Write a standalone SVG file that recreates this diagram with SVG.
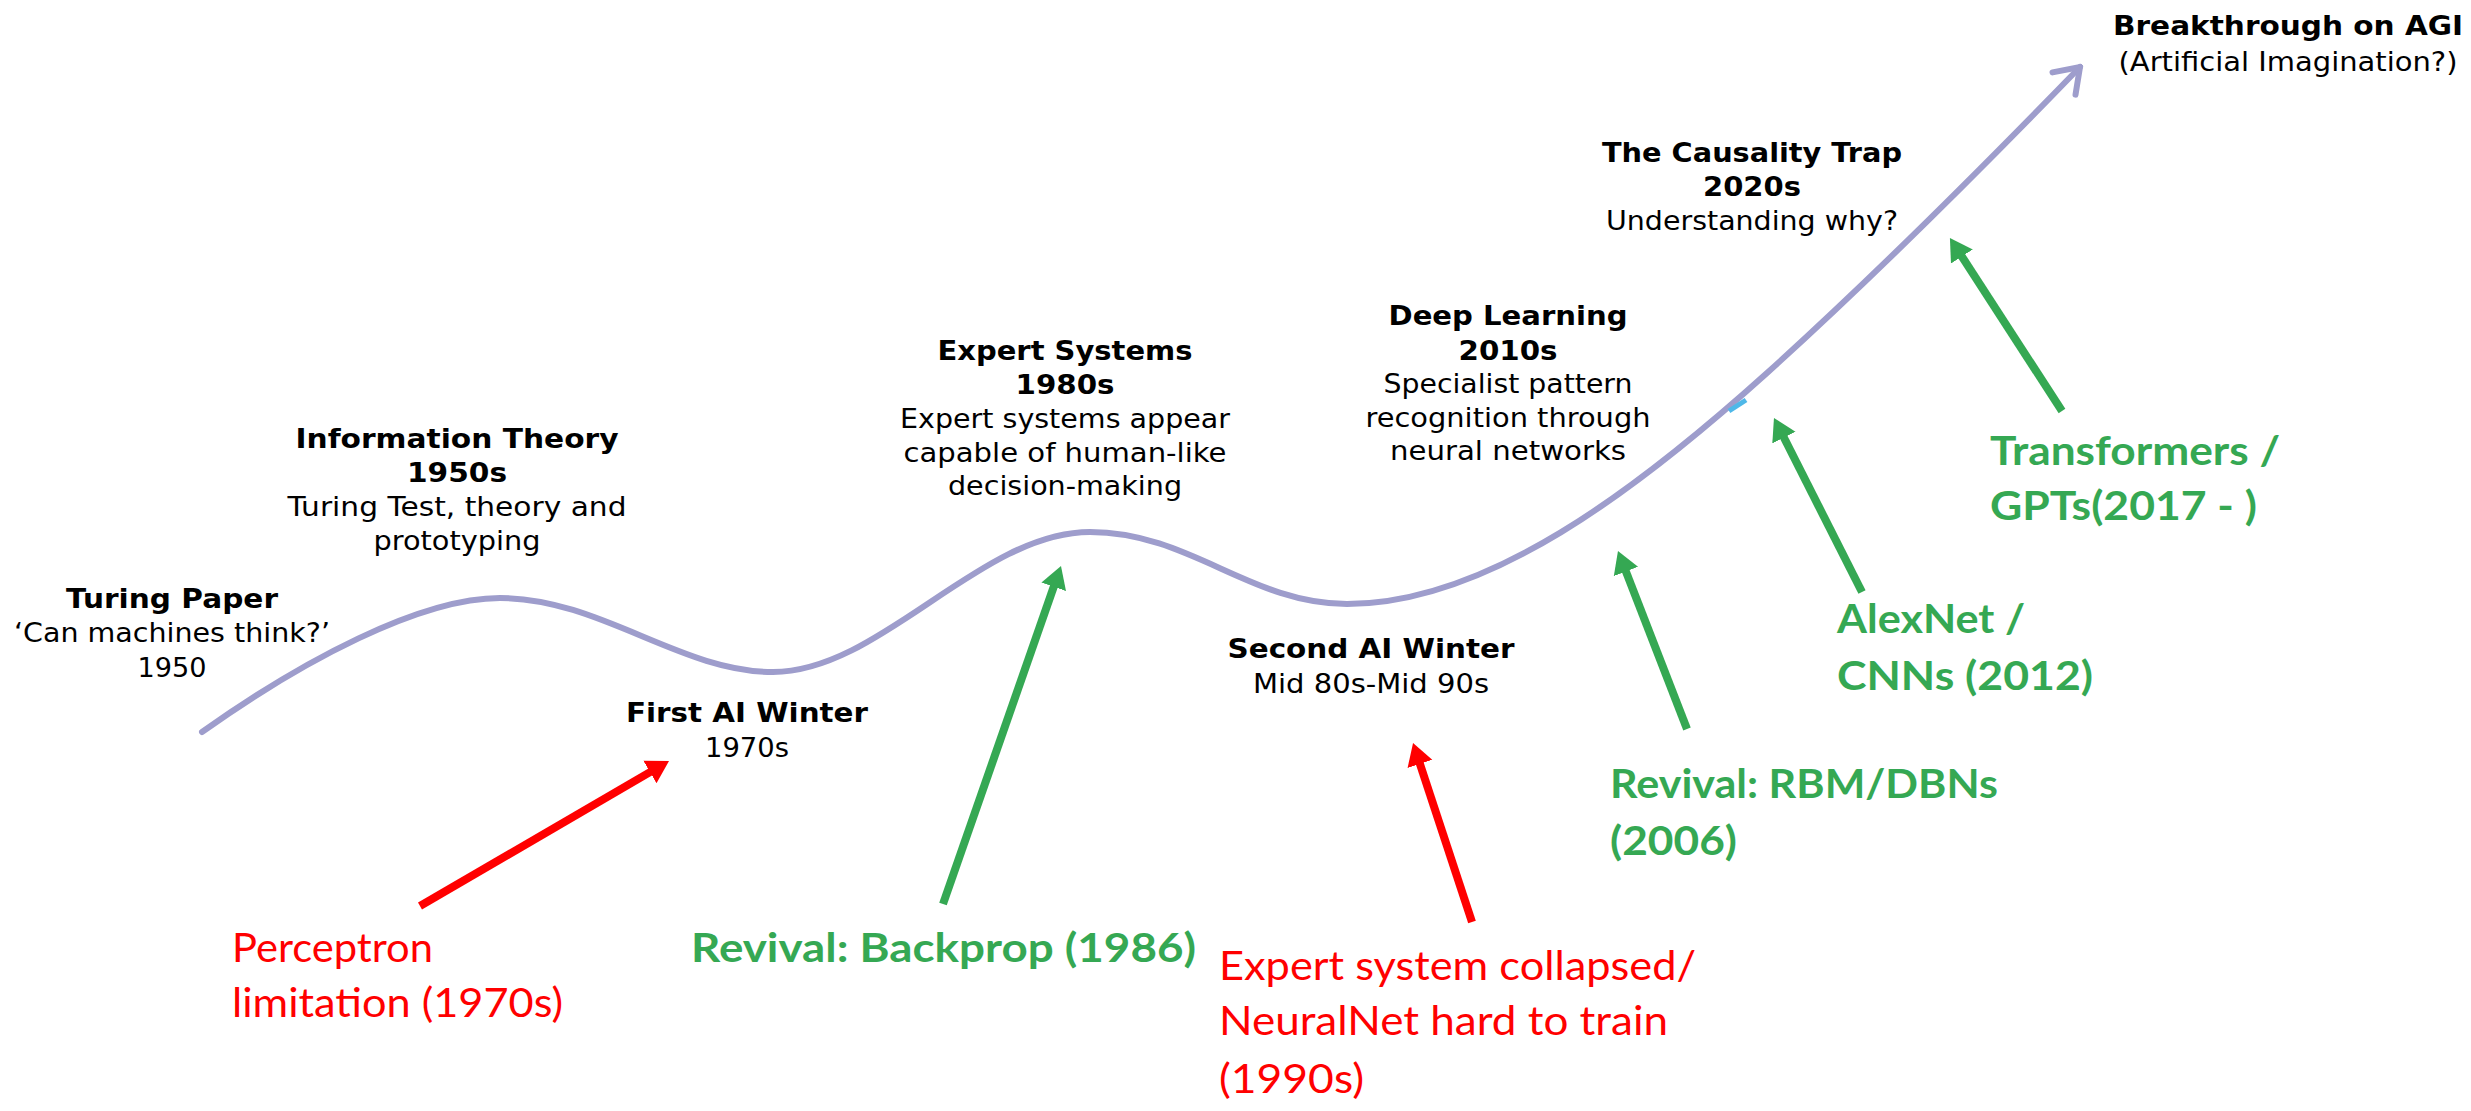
<svg xmlns="http://www.w3.org/2000/svg" width="2471" height="1111" viewBox="0 0 2471 1111">
  <style>
    text { font-family: "DejaVu Sans", Verdana, sans-serif; fill: #000; text-anchor: middle; }
    .title { font-size: 26px; font-weight: bold; }
    .body { font-size: 26px; }
    .lbl { font-family: Lato, "DejaVu Sans", sans-serif; font-size: 41px; text-anchor: start; }
    .red { fill: #ff0000; }
    .green { fill: #35a853; font-weight: bold; }
    .trend { fill: none; stroke: #9e9dcc; stroke-width: 6; stroke-linecap: round; }
    .arr-red { stroke: #ff0000; stroke-width: 8; fill: none; }
    .arr-green { stroke: #35a853; stroke-width: 8; fill: none; }
  </style>
  <defs>
    <marker id="open-head" viewBox="0 0 30 40" refX="27" refY="20" markerWidth="30" markerHeight="40" markerUnits="userSpaceOnUse" orient="auto">
      <path d="M4,4 L27,20 L4,36" fill="none" stroke="#9e9dcc" stroke-width="6" stroke-linecap="round" stroke-linejoin="miter"/>
    </marker>
    <marker id="head-red" viewBox="0 -14 24 28" refX="2" refY="0" markerWidth="24" markerHeight="28" markerUnits="userSpaceOnUse" orient="auto">
      <path d="M0,-13 L22,0 L0,13 z" fill="#ff0000"/>
    </marker>
    <marker id="head-green" viewBox="0 -14 24 28" refX="2" refY="0" markerWidth="24" markerHeight="28" markerUnits="userSpaceOnUse" orient="auto">
      <path d="M0,-13 L22,0 L0,13 z" fill="#35a853"/>
    </marker>
  </defs>

  <rect width="2471" height="1111" fill="#ffffff"/>

  <!-- progress curve -->
  <g id="trend-curve">
    <path class="trend" marker-end="url(#open-head)"
          d="M202,732 C302,661 420,598 500,598 C600,598 680,672 773,672 C880,672 980,532 1090,532 C1190,532 1250,604 1347,604 C1487,604 1637,490 1767,373 C1870,280 1990,160 2080,67"/>
    <path d="M1729,411 L1746,400" stroke="#4fb8e8" stroke-width="5" fill="none"/>
  </g>

  <!-- connectors -->
  <g id="connectors">
    <line class="arr-red" x1="420" y1="906" x2="651.7" y2="771.1" marker-end="url(#head-red)"/>
    <line class="arr-green" x1="943" y1="904" x2="1054.4" y2="584.9" marker-end="url(#head-green)"/>
    <line class="arr-red" x1="1472" y1="922" x2="1419.3" y2="762.0" marker-end="url(#head-red)"/>
    <line class="arr-green" x1="1687" y1="729" x2="1625.2" y2="569.6" marker-end="url(#head-green)"/>
    <line class="arr-green" x1="1862" y1="592" x2="1783.0" y2="435.8" marker-end="url(#head-green)"/>
    <line class="arr-green" x1="2062" y1="411" x2="1960.8" y2="254.8" marker-end="url(#head-green)"/>
  </g>

  <!-- milestones on the curve -->
  <g id="turing-paper">
    <text class="title" x="172" y="608" textLength="212" lengthAdjust="spacingAndGlyphs">Turing Paper</text>
    <text class="body" x="172" y="642" textLength="316" lengthAdjust="spacingAndGlyphs">‘Can machines think?’</text>
    <text class="body" x="172" y="677" textLength="69" lengthAdjust="spacingAndGlyphs">1950</text>
  </g>
  <g id="information-theory">
    <text class="title" x="457" y="448" textLength="323" lengthAdjust="spacingAndGlyphs">Information Theory</text>
    <text class="title" x="457" y="482" textLength="100" lengthAdjust="spacingAndGlyphs">1950s</text>
    <text class="body" x="457" y="516" textLength="339" lengthAdjust="spacingAndGlyphs">Turing Test, theory and</text>
    <text class="body" x="457" y="550" textLength="167" lengthAdjust="spacingAndGlyphs">prototyping</text>
  </g>
  <g id="first-ai-winter">
    <text class="title" x="747" y="722" textLength="242" lengthAdjust="spacingAndGlyphs">First AI Winter</text>
    <text class="body" x="747" y="757" textLength="84" lengthAdjust="spacingAndGlyphs">1970s</text>
  </g>
  <g id="expert-systems">
    <text class="title" x="1065" y="360" textLength="255" lengthAdjust="spacingAndGlyphs">Expert Systems</text>
    <text class="title" x="1065" y="394" textLength="99" lengthAdjust="spacingAndGlyphs">1980s</text>
    <text class="body" x="1065" y="428" textLength="330" lengthAdjust="spacingAndGlyphs">Expert systems appear</text>
    <text class="body" x="1065" y="462" textLength="323" lengthAdjust="spacingAndGlyphs">capable of human-like</text>
    <text class="body" x="1065" y="495" textLength="234" lengthAdjust="spacingAndGlyphs">decision-making</text>
  </g>
  <g id="second-ai-winter">
    <text class="title" x="1371" y="658" textLength="287" lengthAdjust="spacingAndGlyphs">Second AI Winter</text>
    <text class="body" x="1371" y="693" textLength="236" lengthAdjust="spacingAndGlyphs">Mid 80s-Mid 90s</text>
  </g>
  <g id="deep-learning">
    <text class="title" x="1508" y="325" textLength="239" lengthAdjust="spacingAndGlyphs">Deep Learning</text>
    <text class="title" x="1508" y="360" textLength="99" lengthAdjust="spacingAndGlyphs">2010s</text>
    <text class="body" x="1508" y="393" textLength="249" lengthAdjust="spacingAndGlyphs">Specialist pattern</text>
    <text class="body" x="1508" y="427" textLength="285" lengthAdjust="spacingAndGlyphs">recognition through</text>
    <text class="body" x="1508" y="460" textLength="236" lengthAdjust="spacingAndGlyphs">neural networks</text>
  </g>
  <g id="causality-trap">
    <text class="title" x="1752" y="162" textLength="300" lengthAdjust="spacingAndGlyphs">The Causality Trap</text>
    <text class="title" x="1752" y="196" textLength="98" lengthAdjust="spacingAndGlyphs">2020s</text>
    <text class="body" x="1752" y="230" textLength="292" lengthAdjust="spacingAndGlyphs">Understanding why?</text>
  </g>
  <g id="agi-breakthrough">
    <text class="title" x="2288" y="35" textLength="350" lengthAdjust="spacingAndGlyphs">Breakthrough on AGI</text>
    <text class="body" x="2288" y="71" textLength="339" lengthAdjust="spacingAndGlyphs">(Artificial Imagination?)</text>
  </g>

  <!-- drivers -->
  <g id="perceptron-limitation">
    <text class="lbl red" x="232" y="962" textLength="201" lengthAdjust="spacingAndGlyphs">Perceptron</text>
    <text class="lbl red" x="232" y="1017" textLength="331" lengthAdjust="spacingAndGlyphs">limitation (1970s)</text>
  </g>
  <g id="backprop-revival">
    <text class="lbl green" x="691" y="962" textLength="505" lengthAdjust="spacingAndGlyphs">Revival: Backprop (1986)</text>
  </g>
  <g id="expert-collapse">
    <text class="lbl red" x="1219" y="980" textLength="477" lengthAdjust="spacingAndGlyphs">Expert system collapsed/</text>
    <text class="lbl red" x="1219" y="1035" textLength="449" lengthAdjust="spacingAndGlyphs">NeuralNet hard to train</text>
    <text class="lbl red" x="1219" y="1093" textLength="145" lengthAdjust="spacingAndGlyphs">(1990s)</text>
  </g>
  <g id="rbm-revival">
    <text class="lbl green" x="1610" y="798" textLength="388" lengthAdjust="spacingAndGlyphs">Revival: RBM/DBNs</text>
    <text class="lbl green" x="1610" y="855" textLength="127" lengthAdjust="spacingAndGlyphs">(2006)</text>
  </g>
  <g id="alexnet">
    <text class="lbl green" x="1837" y="633" textLength="188" lengthAdjust="spacingAndGlyphs">AlexNet /</text>
    <text class="lbl green" x="1837" y="690" textLength="256" lengthAdjust="spacingAndGlyphs">CNNs (2012)</text>
  </g>
  <g id="transformers">
    <text class="lbl green" x="1990" y="465" textLength="290" lengthAdjust="spacingAndGlyphs">Transformers /</text>
    <text class="lbl green" x="1990" y="520" textLength="267" lengthAdjust="spacingAndGlyphs">GPTs(2017 - )</text>
  </g>
</svg>
